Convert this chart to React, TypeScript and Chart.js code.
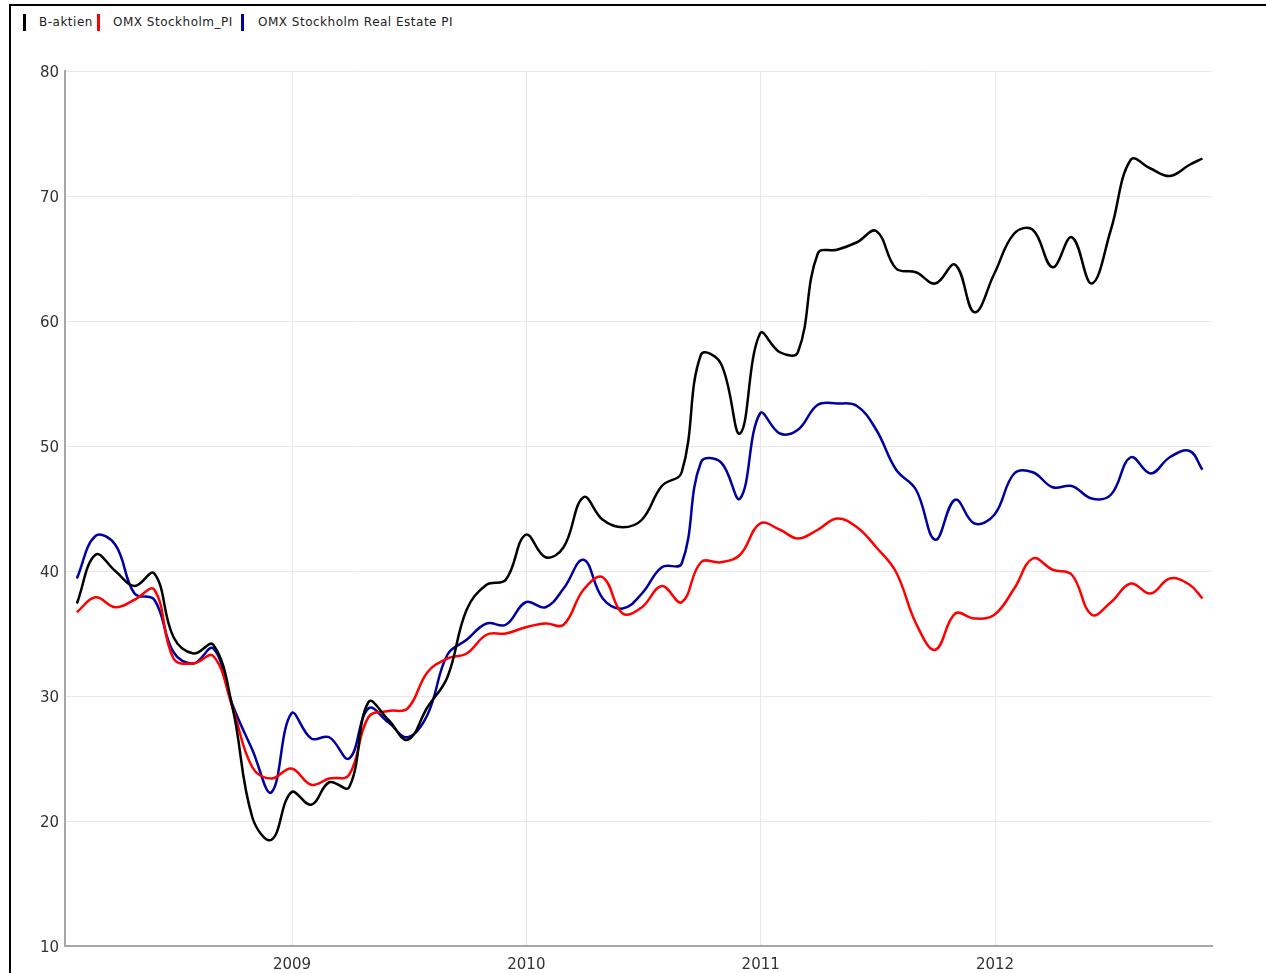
import React, { useEffect, useRef } from "react";
import { Chart, registerables } from "chart.js";

Chart.register(...registerables);

const dates = [
  "2008-01-31", "2008-02-29", "2008-03-31", "2008-04-30", "2008-05-31", "2008-06-30",
  "2008-07-31", "2008-08-31", "2008-09-30", "2008-10-31", "2008-11-30", "2008-12-31",
  "2009-01-31", "2009-02-28", "2009-03-31", "2009-04-30", "2009-05-31", "2009-06-30",
  "2009-07-31", "2009-08-31", "2009-09-30", "2009-10-31", "2009-11-30", "2009-12-31",
  "2010-01-31", "2010-02-28", "2010-03-31", "2010-04-30", "2010-05-31", "2010-06-30",
  "2010-07-31", "2010-08-31", "2010-09-30", "2010-10-31", "2010-11-30", "2010-12-31",
  "2011-01-31", "2011-02-28", "2011-03-31", "2011-04-30", "2011-05-31", "2011-06-30",
  "2011-07-31", "2011-08-31", "2011-09-30", "2011-10-31", "2011-11-30", "2011-12-31",
  "2012-01-31", "2012-02-29", "2012-03-31", "2012-04-30", "2012-05-31", "2012-06-30",
  "2012-07-31", "2012-08-31", "2012-09-30", "2012-10-31", "2012-11-20",
];

const bAktien = [
  37.4, 41.3, 40.0, 38.8, 39.8, 34.7, 33.4, 34.1, 29.1, 20.3, 18.5, 22.3,
  21.3, 23.1, 22.7, 29.5, 28.1, 26.5, 29.1, 31.5, 36.9, 38.9, 39.3, 42.9,
  41.1, 41.9, 45.9, 44.1, 43.5, 44.1, 46.8, 47.9, 57.3, 56.6, 51.0, 59.0,
  57.5, 57.5, 65.4, 65.7, 66.3, 67.2, 64.2, 63.9, 63.0, 64.5, 60.7, 63.8,
  67.0, 67.3, 64.3, 66.7, 63.0, 67.3, 72.9, 72.2, 71.6, 72.5, 73.0,
];

const omxPI = [
  36.7, 37.9, 37.1, 37.7, 38.5, 33.0, 32.6, 33.2, 29.1, 24.3, 23.4, 24.2,
  22.9, 23.4, 23.7, 28.3, 28.8, 29.0, 31.9, 33.0, 33.4, 34.9, 35.0, 35.5,
  35.8, 35.7, 38.5, 39.5, 36.6, 37.1, 38.8, 37.5, 40.7, 40.7, 41.3, 43.8,
  43.3, 42.6, 43.3, 44.2, 43.5, 41.9, 39.9, 35.8, 33.7, 36.6, 36.2, 36.5,
  38.6, 41.0, 40.1, 39.7, 36.5, 37.5, 39.0, 38.2, 39.4, 38.9, 37.8,
];

const omxRealEstate = [
  39.4, 42.8, 42.1, 38.2, 37.7, 33.5, 32.6, 33.8, 29.3, 25.7, 22.3, 28.6,
  26.6, 26.7, 25.0, 29.0, 27.9, 26.7, 28.5, 33.3, 34.5, 35.8, 35.7, 37.5,
  37.1, 38.6, 40.9, 37.8, 37.0, 38.2, 40.3, 40.6, 48.7, 48.7, 45.8, 52.6,
  51.0, 51.3, 53.3, 53.4, 53.2, 51.3, 48.1, 46.5, 42.5, 45.7, 43.8, 44.5,
  47.8, 47.9, 46.7, 46.8, 45.8, 46.1, 49.1, 47.8, 49.1, 49.6, 48.1,
];

const seriesNames = ["B-aktien", "OMX Stockholm_PI", "OMX Stockholm Real Estate PI"];
const seriesColors = ["#000000", "#ff0000", "#0000a0"];
const yTicks = [10, 20, 30, 40, 50, 60, 70, 80];
const xTickYears = [2009, 2010, 2011, 2012];

function toYearFraction(d: string): number {
  const [y, m, day] = d.split("-").map(Number);
  const start = Date.UTC(y, 0, 1);
  const end = Date.UTC(y + 1, 0, 1);
  const cur = Date.UTC(y, m - 1, day);
  return y + (cur - start) / (end - start);
}

export default function App() {
  const canvasRef = useRef<HTMLCanvasElement | null>(null);

  useEffect(() => {
    const canvas = canvasRef.current;
    if (!canvas) return;
    const xs = dates.map(toYearFraction);
    const all = [bAktien, omxPI, omxRealEstate];
    const chart = new Chart(canvas, {
      type: "line",
      data: {
        datasets: all.map((vals, k) => ({
          label: seriesNames[k],
          data: vals.map((v, i) => ({ x: xs[i], y: v })),
          borderColor: seriesColors[k],
          backgroundColor: seriesColors[k],
          borderWidth: 2.5,
          pointRadius: 0,
          pointHoverRadius: 0,
          tension: 0.4,
          fill: false,
        })),
      },
      options: {
        animation: false,
        responsive: false,
        maintainAspectRatio: false,
        layout: { padding: { left: 0, right: 54, top: 31, bottom: 0 } },
        plugins: {
          legend: { display: false },
          tooltip: { enabled: false },
        },
        scales: {
          x: {
            type: "linear",
            min: 2008.0313,
            max: 2012.926,
            afterBuildTicks: (scale: any) => {
              scale.ticks = xTickYears.map((v) => ({ value: v }));
            },
            afterFit: (scale: any) => {
              scale.height = 27;
            },
            ticks: {
              callback: (v: any) => String(v),
              font: { family: "DejaVu Sans", size: 15 },
              color: "#333333",
              padding: 10,
              maxRotation: 0,
            },
            grid: { color: "#e8e8e8", lineWidth: 1, drawTicks: false },
            border: { color: "#a6a6a6", width: 2 },
          },
          y: {
            type: "linear",
            min: 10,
            max: 80,
            afterBuildTicks: (scale: any) => {
              scale.ticks = yTicks.map((v) => ({ value: v }));
            },
            afterFit: (scale: any) => {
              scale.width = 65;
            },
            ticks: {
              callback: (v: any) => String(v),
              font: { family: "DejaVu Sans", size: 15 },
              color: "#333333",
              padding: 6,
              labelOffset: 2,
            },
            grid: { color: "#e8e8e8", lineWidth: 1, drawTicks: false },
            border: { color: "#a6a6a6", width: 2 },
          },
        },
      },
    });
    return () => chart.destroy();
  }, []);

  const legendItems = [
    { bar: 23, text: 39 },
    { bar: 97, text: 113 },
    { bar: 241, text: 258 },
  ];

  return (
    <div
      style={{
        position: "absolute",
        left: 0,
        top: 0,
        width: 1266,
        height: 973,
        overflow: "hidden",
        background: "#ffffff",
        fontFamily: "DejaVu Sans, sans-serif",
      }}
    >
      <div
        style={{
          position: "absolute",
          left: 9,
          top: 4,
          width: 1300,
          height: 1000,
          borderLeft: "2px solid #000",
          borderTop: "2px solid #000",
        }}
      />
      {legendItems.map((it, k) => (
        <React.Fragment key={k}>
          <div
            style={{
              position: "absolute",
              left: it.bar,
              top: 14,
              width: 3,
              height: 17,
              background: seriesColors[k],
            }}
          />
          <span
            style={{
              position: "absolute",
              left: it.text,
              top: 14,
              fontSize: 12,
              lineHeight: "16px",
              letterSpacing: "0.5px",
              color: "#222",
              whiteSpace: "nowrap",
            }}
          >
            {seriesNames[k]}
          </span>
        </React.Fragment>
      ))}
      <canvas
        ref={canvasRef}
        width={1266}
        height={933}
        style={{ position: "absolute", left: 0, top: 40, width: 1266, height: 933 }}
      />
    </div>
  );
}
